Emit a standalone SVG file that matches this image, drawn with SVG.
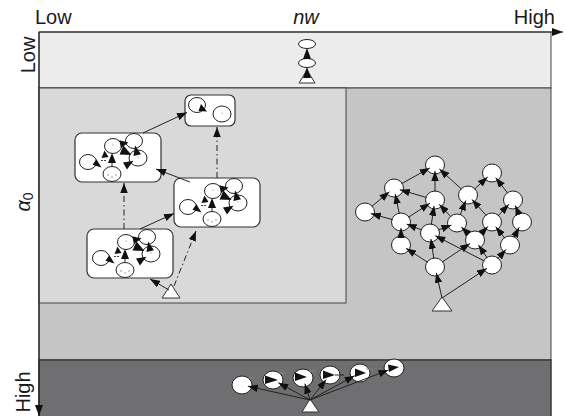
<svg xmlns="http://www.w3.org/2000/svg" width="566" height="416" viewBox="0 0 566 416">
<defs>
<style>
  .lbl{font-family:"Liberation Sans",Arial,sans-serif;font-size:20px;fill:#1a1a1a}
  .st{fill:#fff;stroke:#222;stroke-width:1}
  .box{fill:#fff;stroke:#333;stroke-width:1.2}
  .e{stroke:#222;stroke-width:1;fill:none;marker-end:url(#ah)}
  .dd{stroke-dasharray:6 3 1.5 3}
  .hd{fill:#111;stroke:none}
  .dot{fill:#777}
</style>
<marker id="ah" markerWidth="10" markerHeight="7.5" refX="10" refY="3.75" orient="auto" markerUnits="userSpaceOnUse">
  <path d="M0,0 L10,3.75 L0,7.5 z" fill="#111"/>
</marker>
<marker id="axh" markerWidth="11" markerHeight="8" refX="11" refY="4" orient="auto" markerUnits="userSpaceOnUse">
  <path d="M0,0 L11,4 L0,8 z" fill="#111"/>
</marker>
<!-- inner state cluster shared by the three compound states -->
<g id="cluster">
  <ellipse class="st" cx="13" cy="29" rx="8.5" ry="7.5"/>
  <ellipse class="st" cx="38" cy="13" rx="8.5" ry="7.5"/>
  <ellipse class="st" cx="59" cy="8" rx="8.5" ry="7.5"/>
  <ellipse class="st" cx="63" cy="25" rx="9" ry="8"/>
  <ellipse class="st" cx="37" cy="41" rx="9" ry="7.5"/>
  <circle class="dot" cx="33" cy="42" r="0.7"/>
  <circle class="dot" cx="37" cy="44" r="0.7"/>
  <circle class="dot" cx="41" cy="42" r="0.7"/>
  <circle class="dot" cx="38" cy="12" r="0.6"/>
  <circle class="dot" cx="63" cy="24" r="0.6"/>
  <line x1="37" y1="33.5" x2="37" y2="29" stroke="#222"/>
  <polygon class="hd" points="37,20 33,30 41,30"/>
  <polygon class="hd" points="58.5,27.8 48,29.5 52,36.5"/>
  <polygon class="hd" points="60.1,12.5 58.5,23 66,21.3"/>
  <polygon class="hd" points="56.5,22 48.5,12.5 44.5,21.5"/>
  <polygon class="hd" points="53.5,9.4 44.3,7.2 46,15"/>
  <polygon class="hd" points="26.5,34.5 21.4,26.3 17.5,31.8"/>
  <polygon class="hd" points="29.5,17.5 26.5,25 33.5,24"/>
  <line x1="26" y1="27.5" x2="31" y2="27.5" stroke="#444" stroke-dasharray="2 1"/>
</g>
</defs>

<!-- background bands -->
<rect x="39" y="32" width="512" height="56" fill="#ececec" stroke="#444"/>
<rect x="39" y="88" width="512" height="272" fill="#c5c5c5" stroke="#444"/>
<rect x="39" y="88" width="307" height="215" fill="#d9d9d9" stroke="#444"/>
<rect x="39" y="360" width="512" height="60" fill="#6f6f72" stroke="#3a3a3a" stroke-width="1.5"/>

<!-- axes -->
<line x1="39" y1="32" x2="563" y2="32" stroke="#222" stroke-width="1.2" marker-end="url(#axh)"/>
<line x1="39" y1="32" x2="39" y2="416" stroke="#222" stroke-width="1.2" marker-end="url(#axh)"/>

<!-- axis labels -->
<text class="lbl" x="35" y="24">Low</text>
<text class="lbl" x="306" y="24" text-anchor="middle" font-style="italic">nw</text>
<text class="lbl" x="555" y="24" text-anchor="end">High</text>
<text class="lbl" transform="translate(35,55) rotate(-90)" text-anchor="middle">Low</text>
<text class="lbl" transform="translate(30,202) rotate(-90)" text-anchor="middle"><tspan font-style="italic">α</tspan><tspan font-size="14" dy="2.5">0</tspan></text>
<text class="lbl" transform="translate(30,392) rotate(-90)" text-anchor="middle">High</text>

<!-- low band: a single chain -->
<g id="chain-top">
  <ellipse class="st" cx="307" cy="44" rx="8.5" ry="4.5"/>
  <ellipse class="st" cx="307" cy="63" rx="8.5" ry="4.5"/>
</g>
<g id="start-top">
  <polygon points="299,83 315,83 307,70" fill="#fff" stroke="#333"/>
</g>

<!-- compound states -->
<g id="state-a">
  <rect class="box" x="185" y="95" width="50" height="31" rx="6"/>
  <ellipse class="st" cx="197" cy="105" rx="8.5" ry="7.5"/>
  <ellipse class="st" cx="222" cy="114" rx="9" ry="8"/>
  <polygon class="hd" points="207,111.5 201,104 198.5,111"/>
  <circle class="dot" cx="222" cy="113" r="0.6"/>
</g>
<g id="state-b">
  <rect class="box" x="75" y="133" width="86" height="49" rx="7"/>
  <use href="#cluster" x="75" y="133"/>
</g>
<g id="state-c">
  <rect class="box" x="174" y="178" width="86" height="49" rx="7"/>
  <use href="#cluster" x="175" y="178"/>
</g>
<g id="state-d">
  <rect class="box" x="87" y="229" width="86" height="49" rx="7"/>
  <use href="#cluster" x="88" y="229"/>
</g>
<g id="start-panel">
  <polygon points="162,298 180,298 171,284" fill="#fff" stroke="#333"/>
</g>

<!-- lattice of states -->
<g id="lattice">
  <ellipse class="st" cx="435" cy="165" rx="9.5" ry="9"/>
  <ellipse class="st" cx="492" cy="173" rx="9.5" ry="9"/>
  <ellipse class="st" cx="394" cy="188" rx="9.5" ry="9"/>
  <ellipse class="st" cx="435" cy="200" rx="9.5" ry="9"/>
  <ellipse class="st" cx="468" cy="195" rx="9.5" ry="9"/>
  <ellipse class="st" cx="513" cy="200" rx="9.5" ry="9"/>
  <ellipse class="st" cx="365" cy="212" rx="9.5" ry="9"/>
  <ellipse class="st" cx="401" cy="222" rx="9.5" ry="9"/>
  <ellipse class="st" cx="457" cy="223" rx="9.5" ry="9"/>
  <ellipse class="st" cx="492" cy="222" rx="9.5" ry="9"/>
  <ellipse class="st" cx="522" cy="222" rx="9.5" ry="9"/>
  <ellipse class="st" cx="430" cy="233" rx="9.5" ry="9"/>
  <ellipse class="st" cx="401" cy="245" rx="9.5" ry="9"/>
  <ellipse class="st" cx="475" cy="240" rx="9.5" ry="9"/>
  <ellipse class="st" cx="510" cy="245" rx="9.5" ry="9"/>
  <ellipse class="st" cx="435" cy="267" rx="9.5" ry="9"/>
  <ellipse class="st" cx="492" cy="265" rx="9.5" ry="9"/>
</g>
<g id="start-lattice">
  <polygon points="432,311 452,311 442,297" fill="#fff" stroke="#333"/>
</g>

<!-- high band: fan of states -->
<g id="fan">
  <ellipse class="st" cx="242" cy="385" rx="10" ry="9"/>
  <ellipse class="st" cx="273" cy="380" rx="10" ry="9"/>
  <ellipse class="st" cx="303" cy="378" rx="10" ry="9"/>
  <ellipse class="st" cx="330" cy="375" rx="10" ry="9"/>
  <ellipse class="st" cx="360" cy="373" rx="10" ry="9"/>
  <ellipse class="st" cx="394" cy="368" rx="10" ry="9"/>
  <polygon class="hd" points="265,375.5 278,380 265,384"/>
  <polygon class="hd" points="295,372.5 307,377 295,381"/>
  <polygon class="hd" points="323,370.5 335,375 323,379"/>
  <polygon class="hd" points="355,368.5 366,373 355,377"/>
  <polygon class="hd" points="388,364.5 399,367 389,372"/>
  <g stroke="#888" stroke-width="1">
    <line x1="248" y1="378" x2="254" y2="378"/>
    <line x1="279" y1="373" x2="285" y2="373"/>
    <line x1="309" y1="371" x2="315" y2="371"/>
    <line x1="335" y1="375" x2="344" y2="375" stroke="#222"/>
    <line x1="366" y1="369" x2="372" y2="369"/>
  </g>
</g>
<g id="start-fan">
  <polygon points="302,412 319,412 310,399" fill="#fff" stroke="#333"/>
</g>

<!-- transitions -->
<g id="connectors">
  <!-- low band chain -->
  <polygon class="hd" points="307,48 303,59 311,59"/>
  <polygon class="hd" points="307,67 303,78 311,78"/>

  <!-- compound states -->
  <line class="e" x1="143" y1="133" x2="187" y2="112.5"/>
  <line class="e" x1="190" y1="182" x2="156" y2="169"/>
  <line class="e" x1="140" y1="229" x2="174" y2="213.5"/>
  <line class="e" x1="169" y1="290" x2="150" y2="279"/>
  <line class="e dd" x1="124" y1="229" x2="124" y2="183"/>
  <line class="e dd" x1="217" y1="178" x2="217" y2="127" stroke-dasharray="4 3 1 3"/>
  <line class="e dd" x1="174" y1="286" x2="196" y2="231" stroke-dasharray="4 3 1 3"/>

  <!-- lattice -->
  <line class="e" x1="442" y1="298" x2="436.3" y2="272.9"/>
  <line class="e" x1="442" y1="298" x2="487" y2="268.3"/>
  <line class="e" x1="427.9" y1="262.4" x2="406" y2="248.3"/>
  <line class="e" x1="433.8" y1="258.6" x2="430.9" y2="238.9"/>
  <line class="e" x1="442" y1="262.2" x2="470" y2="243.4"/>
  <line class="e" x1="497.7" y1="258.7" x2="506" y2="249.5"/>
  <line class="e" x1="487.2" y1="258" x2="478.4" y2="245"/>
  <line class="e" x1="484.5" y1="261.1" x2="435.3" y2="235.7"/>
  <line class="e" x1="401" y1="236.5" x2="401" y2="228"/>
  <line class="e" x1="422" y1="230" x2="406.6" y2="224.1"/>
  <line class="e" x1="431.3" y1="224.6" x2="434.1" y2="205.9"/>
  <line class="e" x1="438" y1="230" x2="451.4" y2="225.1"/>
  <line class="e" x1="480.8" y1="233.8" x2="487.9" y2="226.4"/>
  <line class="e" x1="468.8" y1="234.2" x2="461.4" y2="227.1"/>
  <line class="e" x1="504.8" y1="238.3" x2="495.7" y2="226.7"/>
  <line class="e" x1="513.9" y1="237.5" x2="519.2" y2="227.3"/>
  <line class="e" x1="371.6" y1="206.6" x2="389.4" y2="191.8"/>
  <line class="e" x1="392.8" y1="219.7" x2="370.8" y2="213.6"/>
  <line class="e" x1="399.3" y1="213.7" x2="395.2" y2="193.9"/>
  <line class="e" x1="408.1" y1="217.4" x2="430" y2="203.3"/>
  <line class="e" x1="401.4" y1="183.8" x2="429.8" y2="167.9"/>
  <line class="e" x1="426.8" y1="197.6" x2="399.8" y2="189.7"/>
  <line class="e" x1="435" y1="191.5" x2="435" y2="171"/>
  <line class="e" x1="461.7" y1="189.3" x2="439.4" y2="169"/>
  <line class="e" x1="474.3" y1="189.3" x2="487.6" y2="177"/>
  <line class="e" x1="507.8" y1="193.3" x2="495.7" y2="177.7"/>
  <line class="e" x1="451.1" y1="216.9" x2="439.2" y2="204.3"/>
  <line class="e" x1="460.1" y1="215.1" x2="465.8" y2="200.6"/>
  <line class="e" x1="486.3" y1="215.6" x2="472" y2="199.5"/>
  <line class="e" x1="497.9" y1="215.9" x2="508.9" y2="204.3"/>
  <line class="e" x1="518.8" y1="214.1" x2="515.3" y2="205.5"/>

  <!-- fan -->
  <line class="e" x1="310" y1="400" x2="247.9" y2="386.2"/>
  <line class="e" x1="310" y1="400" x2="278.3" y2="382.7"/>
  <line class="e" x1="310" y1="400" x2="304.9" y2="383.7"/>
  <line class="e" x1="310" y1="400" x2="326.2" y2="379.6"/>
  <line class="e" x1="310" y1="400" x2="354.7" y2="375.8"/>
  <line class="e" x1="310" y1="400" x2="388.4" y2="370.1"/>
</g>
</svg>
